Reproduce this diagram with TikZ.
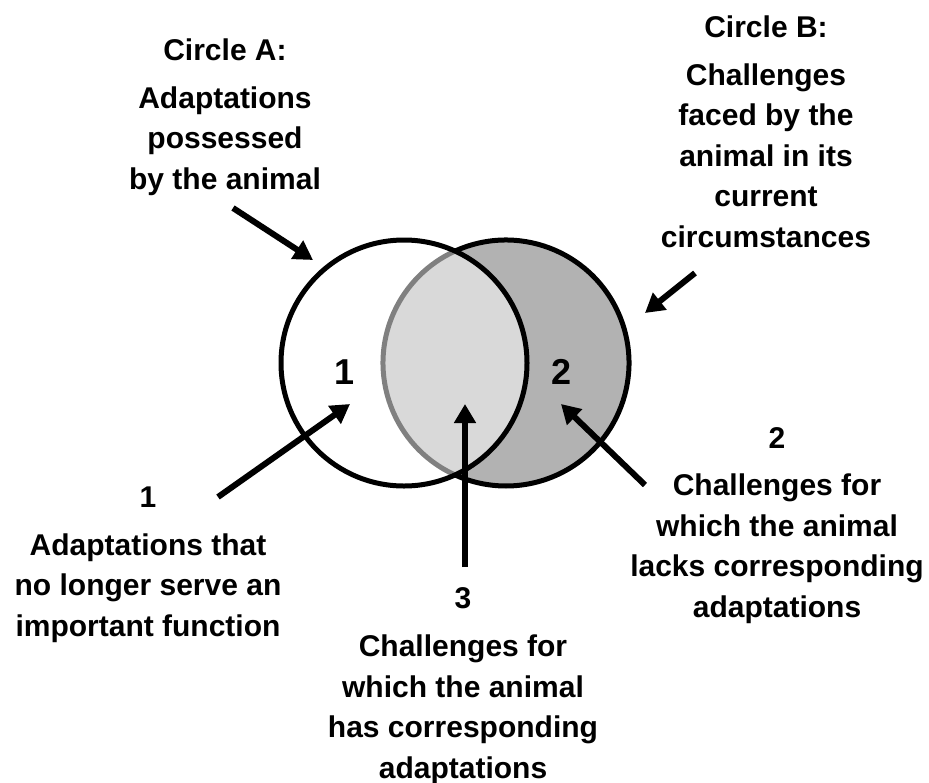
\documentclass[tikz,border=0pt]{standalone}
\usepackage{fontspec}
\setmainfont{Liberation Sans}
\usetikzlibrary{arrows.meta}
\begin{document}
\begin{tikzpicture}[x=1pt,y=-1pt,
  lbl/.style={font=\bfseries\fontsize{30}{40.5}\selectfont, align=center, inner sep=0pt, anchor=north},
  num/.style={font=\bfseries\fontsize{36}{40}\selectfont, inner sep=0pt},
  arr/.style={line width=6pt, -{Triangle[length=19pt,width=21pt]}},
  ring/.style={line width=5pt}]
\useasboundingbox (0,0) rectangle (929,782);
\coordinate (cA) at (404,363);
\coordinate (cB) at (506,363);
% fills
\fill[black!30] (cB) circle[radius=123];
\begin{scope}
  \clip (cA) circle[radius=123];
  \fill[black!15] (cB) circle[radius=123];
\end{scope}
% outlines
\draw[ring, black!50] ([shift={(114.5:123)}]cB) arc[start angle=114.5, end angle=245.5, radius=123];
\draw[ring] ([shift={(-114.5:123)}]cB) arc[start angle=-114.5, end angle=114.5, radius=123];
\draw[ring] (cA) circle[radius=123];
% numbers in circles
\node[num] (n1) at (345,372) {1};
\node[num] (n2) at (562,372) {2};
% labels
\node[lbl] (la) at (225,39) {Circle A:\\[7pt]Adaptations\\possessed\\by the animal};
\node[lbl] (lb) at (766,16) {Circle B:\\[7pt]Challenges\\faced by the\\animal in its\\current\\circumstances};
\node[lbl] (l1) at (148,487) {1\\[7pt]Adaptations that\\no longer serve an\\important function};
\node[lbl] (l2) at (777,427) {2\\[7pt]Challenges for\\which the animal\\lacks corresponding\\adaptations};
\node[lbl] (l3) at (463,587) {3\\[8pt]Challenges for\\which the animal\\has corresponding\\adaptations};
% arrow coordinates
\coordinate (sA) at (233,208); \coordinate (tA) at (313,260);
\coordinate (sB) at (695,273); \coordinate (tB) at (645,313);
\coordinate (s1) at (218,497); \coordinate (t1) at (350,404);
\coordinate (s3) at (465,567); \coordinate (t3) at (465,404);
\coordinate (s2) at (645,485); \coordinate (t2) at (561,404);
\draw[arr] (sA) -- (tA);
\draw[arr] (sB) -- (tB);
\draw[arr] (s1) -- (t1);
\draw[arr] (s3) -- (t3);
\draw[arr] (s2) -- (t2);
\end{tikzpicture}
\end{document}
